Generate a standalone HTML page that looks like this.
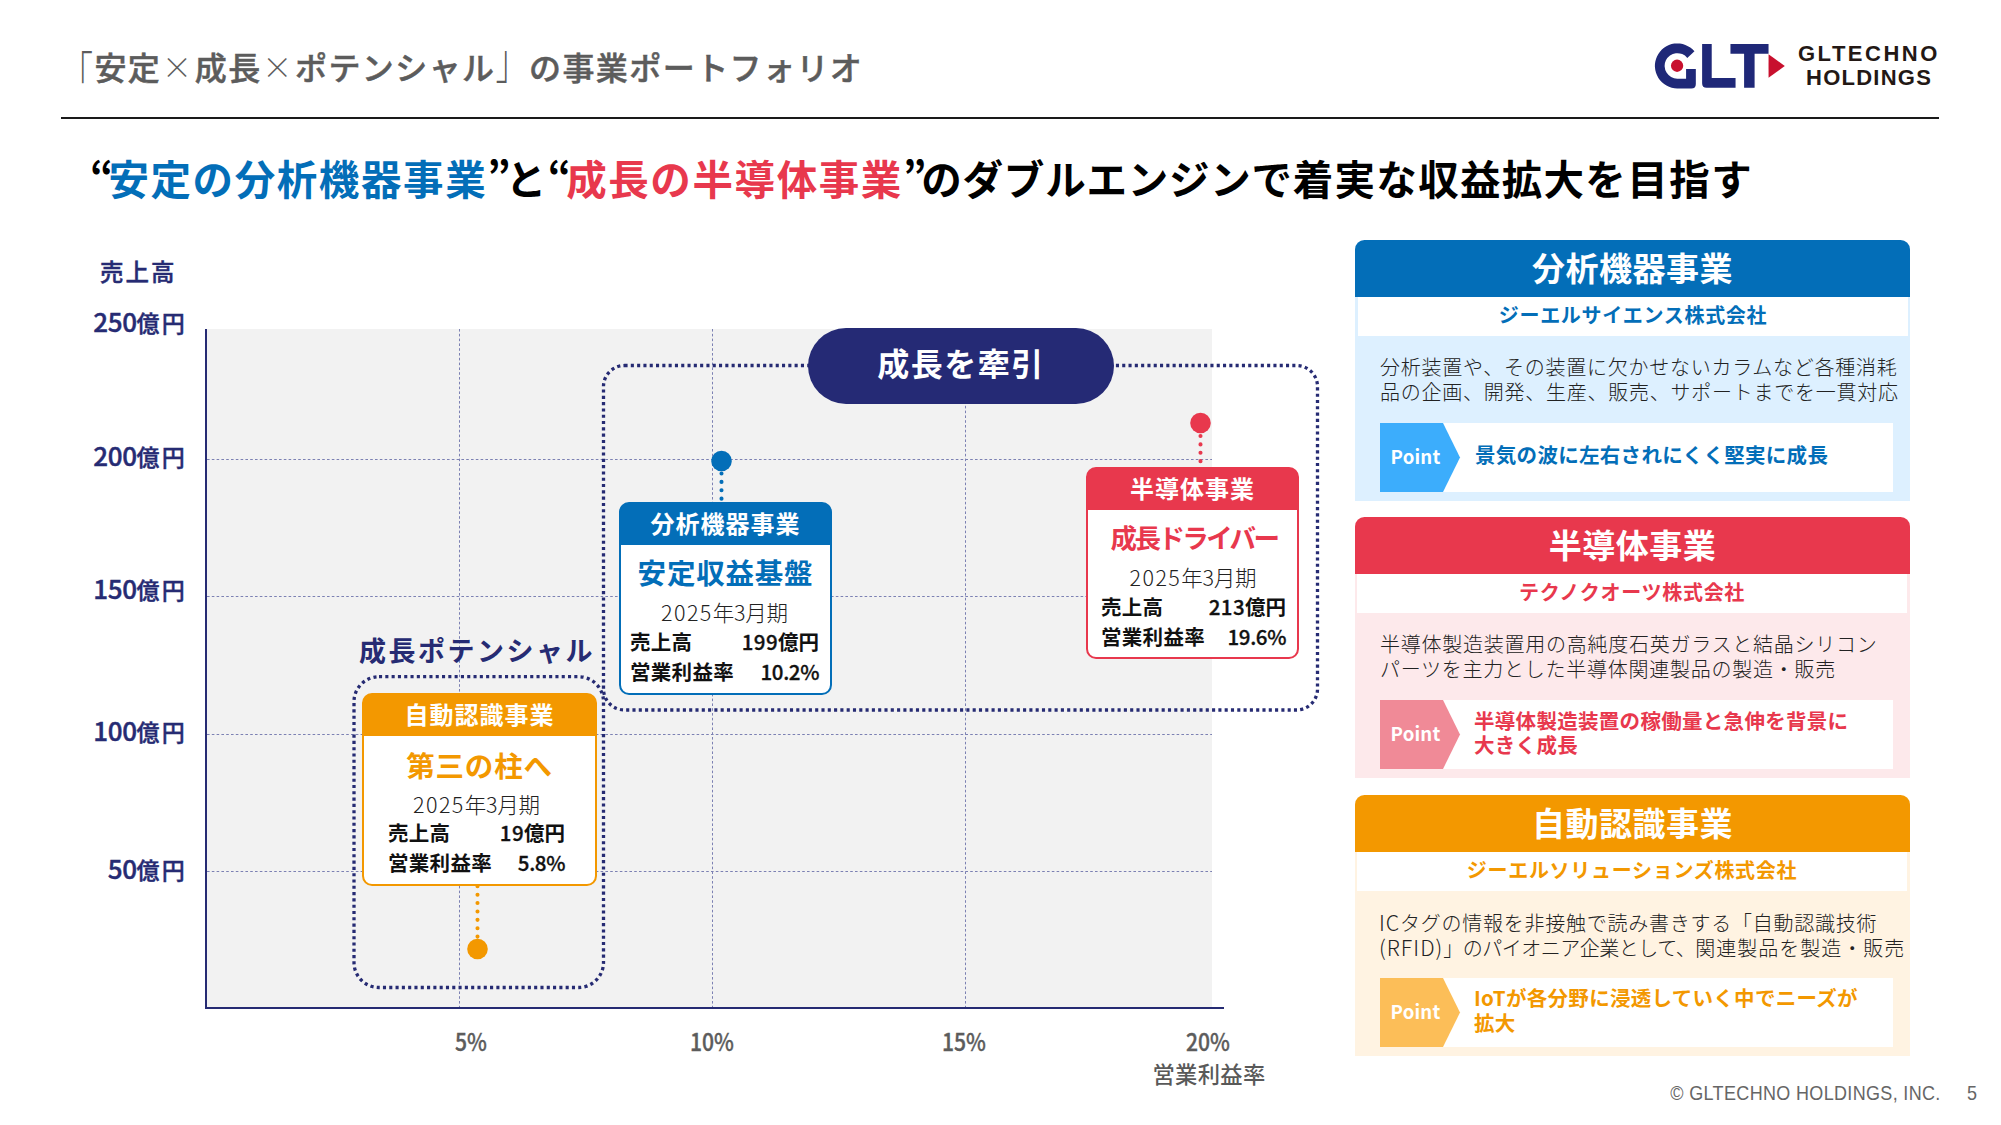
<!DOCTYPE html>
<html lang="ja">
<head>
<meta charset="utf-8">
<title>「安定×成長×ポテンシャル」の事業ポートフォリオ</title>
<style>
*{margin:0;padding:0;box-sizing:border-box}
html,body{width:2001px;height:1125px;overflow:hidden;background:#fff}
body{position:relative;font-family:"Noto Sans CJK JP","Liberation Sans",sans-serif;color:#000}
.abs{position:absolute;white-space:nowrap}
.navy{color:#262b73}
.blue{color:#036eb8}
.red{color:#e8384d}
.org{color:#f39800}
#ttl{left:61px;top:43px;font-size:32px;line-height:46px;font-weight:500;-webkit-text-stroke:0.5px #5c5c5c;color:#5c5c5c;letter-spacing:1.43px}
#ttl .x{display:inline-block;width:33.4px;text-align:center;font-size:30px;font-weight:300;letter-spacing:0;position:relative;top:-1.6px;left:-1px;-webkit-text-stroke:0}
#ttl .bl,#ttl .br{display:inline-block;font-weight:300;-webkit-text-stroke:0;transform:scaleY(1.5)}
#ttl .bl{transform-origin:50% 27%}
#ttl .br{transform-origin:50% 88.5%}
#rule{left:61px;top:117px;width:1878px;height:1.5px;background:#1a1a1a}
#h1{left:90px;top:148px;font-size:40.5px;line-height:60px;font-weight:700;letter-spacing:1.6px}
#h1 .q{letter-spacing:0;margin-right:-5px}
/* chart */
#plot{left:206px;top:329px;width:1006px;height:679px;background:#f2f2f2}
#yaxis{left:205px;top:329px;width:2px;height:680px;background:#262b73}
#xaxis{left:205px;top:1007px;width:1019px;height:2px;background:#262b73}
.yl{font-size:23px;line-height:30px;font-weight:500;-webkit-text-stroke:0.4px #262b73;color:#262b73;text-align:right;width:140px;left:47.2px;letter-spacing:2.4px}
.yl i{font-style:normal;font-size:26px;letter-spacing:-0.3px;margin-right:-0.4px}
.xl{font-size:24px;line-height:28px;font-weight:500;-webkit-text-stroke:0.35px #5c5c5c;color:#5c5c5c;text-align:center;width:120px;transform:scaleX(0.88)}
.card{position:absolute;background:#fff;border-radius:10px;overflow:hidden}
.card .hd{position:absolute;left:0;top:0;right:0;color:#fff;font-weight:700;font-size:24px;text-align:center;letter-spacing:1px}
.card .big{position:absolute;left:0;right:0;text-align:center;font-weight:700;font-size:28.5px;line-height:40px;letter-spacing:0.8px}
.card .per{position:absolute;left:0;right:0;text-align:center;font-weight:300;font-size:21.5px;line-height:30px;color:#222;letter-spacing:-0.2px}
.card .per i{font-style:normal;letter-spacing:1.4px}
.card .row{position:absolute;font-weight:700;font-size:20.5px;line-height:30px;color:#111;letter-spacing:0.3px}
.card .row b{position:absolute;right:0;top:0;font-weight:700;letter-spacing:0}
.card .row i{font-style:normal;font-weight:500;-webkit-text-stroke:0.3px #111;letter-spacing:0.4px}
/* right panels */
.pn{position:absolute;left:1355px;width:555px;height:261px;border-radius:9.5px 9.5px 0 0;overflow:hidden}
.pn .ph{position:absolute;left:0;top:0;width:555px;height:57px;color:#fff;font-size:33px;line-height:54px;font-weight:700;text-align:center;letter-spacing:0.5px}
.pn .co{position:absolute;left:3px;top:57px;width:550px;height:39px;background:#fff;font-size:20px;line-height:36px;font-weight:700;text-align:center;letter-spacing:0.7px}
.pn .tx{position:absolute;left:25px;top:114.2px;font-size:20px;line-height:25.1px;font-weight:300;color:#222;white-space:nowrap;letter-spacing:0.75px}
.pn .la{font-size:21.4px;letter-spacing:0.9px;line-height:0}
.pn .pb{position:absolute;left:25px;top:183px;width:513px;height:69px;background:#fff}
.pn .pt{position:absolute;left:120px;font-size:20.5px;line-height:24.5px;font-weight:700;white-space:nowrap;letter-spacing:0.3px}
.pn svg{position:absolute;left:25px;top:183px}
.pn .pw{position:absolute;left:25px;top:183px;width:63px;height:69px;line-height:65px;color:#fff;font-size:18.6px;font-weight:700;text-align:right;padding-right:2.5px;letter-spacing:0.2px}
.lgt{font-family:"Liberation Sans","Noto Sans CJK JP",sans-serif;font-weight:700;font-size:22px;line-height:24px;color:#231815;letter-spacing:2.5px}
#foot{right:60px;top:1080px;font-family:"Liberation Sans","Noto Sans CJK JP",sans-serif;font-size:20.6px;line-height:26px;color:#666;letter-spacing:0.4px;transform:scaleX(0.873);transform-origin:right center}
#pg{left:1967px;top:1080px;font-family:"Liberation Sans","Noto Sans CJK JP",sans-serif;font-size:20.6px;line-height:26px;color:#666;transform:scaleX(0.873);transform-origin:left center}
</style>
</head>
<body>
<div id="ttl" class="abs"><span class="bl">「</span>安定<span class="x">×</span>成長<span class="x">×</span>ポテンシャル<span class="br">」</span>の事業ポートフォリオ</div>
<div id="rule" class="abs"></div>
<div id="h1" class="abs"><span class="q">“</span><span class="blue">安定の分析機器事業</span><span class="q">”</span>と<span class="q">“</span><span class="red">成長の半導体事業</span><span class="q">”</span><span style="letter-spacing:0.77px">のダブルエンジンで</span><span style="letter-spacing:1.3px">着実な収益拡大を</span>目指す</div>

<svg class="abs" style="left:1645px;top:32px" width="150" height="66" viewBox="0 0 2001 880">
 <path d="M660 257A300 300 0 1 0 430 752L618 752Q678 752 678 692L678 495L548 495L548 622L430 622A170 170 0 1 1 564 345Z" fill="#1f2878"/>
 <circle cx="428" cy="450" r="82" fill="#c8102e"/>
 <path d="M762 160H890V615H1208V745H822Q762 745 762 685Z" fill="#1f2878"/>
 <path d="M1140 160H1648V290H1462V745H1322V290H1140Z" fill="#1f2878"/>
 <path d="M1648 295L1865 455L1648 610Z" fill="#c8102e"/>
</svg>
<div id="lg1" class="abs lgt" style="left:1798px;top:42px">GLTECHNO</div>
<div id="lg2" class="abs lgt" style="left:1806px;top:66px;letter-spacing:1.25px">HOLDINGS</div>

<div id="plot" class="abs"></div>
<svg class="abs" style="left:0;top:0" width="2001" height="1125" viewBox="0 0 2001 1125">
 <g stroke="#7c81b3" stroke-width="1" stroke-dasharray="2.6 2.2" fill="none">
  <line x1="207" y1="459.5" x2="1212" y2="459.5"/>
  <line x1="207" y1="596.5" x2="1212" y2="596.5"/>
  <line x1="207" y1="734.5" x2="1212" y2="734.5"/>
  <line x1="207" y1="871.5" x2="1212" y2="871.5"/>
  <line x1="459.5" y1="329" x2="459.5" y2="1007"/>
  <line x1="712.5" y1="329" x2="712.5" y2="1007"/>
  <line x1="965.5" y1="329" x2="965.5" y2="1007"/>
 </g>
 <g stroke="#262b73" stroke-width="3.3" stroke-dasharray="3.1 3.2" fill="none">
  <rect x="603.5" y="365.5" width="714" height="344.5" rx="21" ry="21"/>
  <rect x="354" y="676.7" width="249.5" height="310.8" rx="25" ry="25"/>
 </g>
 <rect x="808" y="328" width="306" height="76" rx="38" ry="38" fill="#252a75"/>
 <g stroke-width="4.1" stroke-linecap="round" stroke-dasharray="0.01 8.37" fill="none">
  <line x1="721.5" y1="473.5" x2="721.5" y2="499.5" stroke="#036eb8"/>
  <line x1="1200.5" y1="436" x2="1200.5" y2="462" stroke="#e8384d"/>
  <line x1="477.5" y1="886.3" x2="477.5" y2="937.5" stroke="#f39800"/>
 </g>
 <circle cx="721.5" cy="461" r="10.3" fill="#036eb8"/>
 <circle cx="1200.5" cy="423" r="10.3" fill="#e8384d"/>
 <circle cx="477.5" cy="949" r="10.3" fill="#f39800"/>
</svg>
<div id="yaxis" class="abs"></div>
<div id="xaxis" class="abs"></div>
<div class="abs navy" style="left:100px;top:255px;font-size:23.5px;line-height:32px;font-weight:500;-webkit-text-stroke:0.4px #262b73;letter-spacing:2px">売上高</div>
<div class="abs yl" style="top:306px"><i>250</i>億円</div>
<div class="abs yl" style="top:440px"><i>200</i>億円</div>
<div class="abs yl" style="top:573px"><i>150</i>億円</div>
<div class="abs yl" style="top:715px"><i>100</i>億円</div>
<div class="abs yl" style="top:853px"><i>50</i>億円</div>
<div class="abs xl" style="left:411px;top:1027px">5%</div>
<div class="abs xl" style="left:652px;top:1027px">10%</div>
<div class="abs xl" style="left:904px;top:1027px">15%</div>
<div class="abs xl" style="left:1148px;top:1027px">20%</div>
<div class="abs" style="left:1152.5px;top:1058px;font-size:22.3px;line-height:30px;font-weight:500;color:#595959;letter-spacing:0.3px">営業利益率</div>
<div class="abs" style="left:808px;top:328px;width:306px;height:76px;line-height:68px;text-align:center;color:#fff;font-size:32px;font-weight:700;letter-spacing:1.5px">成長を牽引</div>
<div class="abs navy" style="left:359px;top:630px;font-size:27px;line-height:40px;font-weight:700;letter-spacing:2.5px">成長ポテンシャル</div>

<div class="card" style="left:619px;top:502px;width:213px;height:193px;border:2.5px solid #036eb8;background:linear-gradient(#036eb8 0 41px,#fff 41px)">
 <div class="hd" style="height:41px;line-height:37.4px">分析機器事業</div>
 <div class="big blue" style="top:48px">安定収益基盤</div>
 <div class="per" style="top:93px;transform:translateX(-1px)"><i>2025</i>年3月期</div>
 <div class="row" style="left:9px;top:121.5px;width:189px">売上高<b><i>199</i>億円</b></div>
 <div class="row" style="left:9px;top:151.5px;width:189px">営業利益率<b><i style="letter-spacing:-0.4px">10.2%</i></b></div>
</div>
<div class="card" style="left:1086px;top:467px;width:213px;height:192px;border:2.5px solid #e8384d;background:linear-gradient(#e8384d 0 41px,#fff 41px)">
 <div class="hd" style="height:41px;line-height:37.4px">半導体事業</div>
 <div class="big red" id="drv" style="top:48px;left:3px;font-size:26.5px;letter-spacing:-2.6px">成長ドライバー</div>
 <div class="per" style="top:93px;transform:translateX(0.5px)"><i>2025</i>年3月期</div>
 <div class="row" style="left:13px;top:121.5px;width:185px">売上高<b><i>213</i>億円</b></div>
 <div class="row" style="left:13px;top:151.5px;width:185px">営業利益率<b><i style="letter-spacing:-0.4px">19.6%</i></b></div>
</div>
<div class="card" style="left:362px;top:693px;width:235px;height:193px;border:2.5px solid #f39800;background:linear-gradient(#f39800 0 41px,#fff 41px)">
 <div class="hd" style="height:41px;line-height:37.4px">自動認識事業</div>
 <div class="big org" style="top:50px">第三の柱へ</div>
 <div class="per" style="top:94px;transform:translateX(-3px)"><i>2025</i>年3月期</div>
 <div class="row" style="left:24px;top:121.5px;width:177px">売上高<b><i>19</i>億円</b></div>
 <div class="row" style="left:24px;top:151.5px;width:177px">営業利益率<b><i style="letter-spacing:-0.4px">5.8%</i></b></div>
</div>

<div class="pn" style="top:240px;background:#ddf0ff">
 <div class="ph" style="background:#036eb8">分析機器事業</div>
 <div class="co blue">ジーエルサイエンス株式会社</div>
 <div class="tx">分析装置や、その装置に欠かせないカラムなど各種消耗<br>品の企画、開発、生産、販売、サポートまでを一貫対応</div>
 <div class="pb"></div>
 <svg width="82" height="69" viewBox="0 0 82 69"><path d="M0 0H63L80 34.5L63 69H0Z" fill="#3cadfc"/></svg>
 <div class="pw">Point</div>
 <div class="pt blue" style="top:202px">景気の波に左右されにくく堅実に成長</div>
</div>
<div class="pn" style="top:517px;background:#fde9eb">
 <div class="ph" style="background:#e8384d">半導体事業</div>
 <div class="co red" style="left:2px;width:550px">テクノクオーツ株式会社</div>
 <div class="tx">半導体製造装置用の高純度石英ガラスと結晶シリコン<br>パーツを主力とした半導体関連製品の製造・販売</div>
 <div class="pb"></div>
 <svg width="82" height="69" viewBox="0 0 82 69"><path d="M0 0H63L80 34.5L63 69H0Z" fill="#f08a97"/></svg>
 <div class="pw">Point</div>
 <div class="pt red" style="top:190.5px;left:119px">半導体製造装置の稼働量と急伸を背景に<br>大きく成長</div>
</div>
<div class="pn" style="top:794.5px;background:#fff3e2">
 <div class="ph" style="background:#f39800">自動認識事業</div>
 <div class="co org" style="left:2px;width:550px">ジーエルソリューションズ株式会社</div>
 <div class="tx" style="top:115.7px"><span class="la" style="margin-left:-1px">IC</span>タグの情報を非接触で読み書きする「自動認識技術<br><span class="la" style="letter-spacing:1.05px;margin-left:-1px">(RFID)</span><span style="letter-spacing:-0.5px">」のパイオニア企業として、</span><span style="letter-spacing:1px">関連製品を製造・販売</span></div>
 <div class="pb"></div>
 <svg width="82" height="69" viewBox="0 0 82 69"><path d="M0 0H63L80 34.5L63 69H0Z" fill="#fcbe58"/></svg>
 <div class="pw">Point</div>
 <div class="pt org" style="top:190.5px;left:119px">IoTが各分野に浸透していく中でニーズが<br>拡大</div>
</div>


<div id="foot" class="abs">© GLTECHNO HOLDINGS, INC.</div>
<div id="pg" class="abs">5</div>
</body>
</html>
